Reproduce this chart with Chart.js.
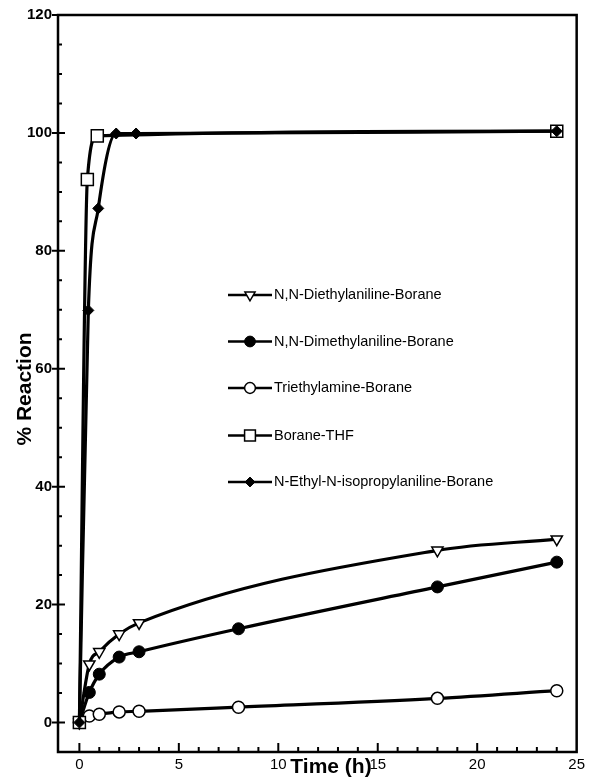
<!DOCTYPE html>
<html><head><meta charset="utf-8">
<script src="https://cdn.jsdelivr.net/npm/chart.js@4/dist/chart.umd.min.js"></script>
<style>html,body{margin:0;padding:0;background:#fff}#wrap{width:589px;height:784px}</style>
</head><body><div id="wrap"><canvas id="c" width="589" height="784"></canvas></div>
<script>
const seriesNames = ["N,N-Diethylaniline-Borane","N,N-Dimethylaniline-Borane","Triethylamine-Borane","Borane-THF","N-Ethyl-N-isopropylaniline-Borane"];
const diethylTime = [0,0.5,1,2,3,18,24];
const diethylPct = [0,9.9,12.0,15.0,16.9,29.2,31.1];
const dimethylTime = [0,0.5,1,2,3,8,18,24];
const dimethylPct = [0,5.1,8.2,11.1,12.0,15.9,23.0,27.2];
const triethylTime = [0,0.5,1,2,3,8,18,24];
const triethylPct = [0,1.1,1.4,1.8,1.9,2.6,4.1,5.4];
const thfTime = [0,0.4,0.9,24];
const thfPct = [0,92.1,99.5,100.3];
const ethylIsoTime = [0,0.45,0.95,1.85,2.85,24];
const ethylIsoPct = [0,69.9,87.2,99.9,99.9,100.3];
const xTickLabels = [0,5,10,15,20,25];
const yTickLabels = [0,20,40,60,80,100,120];
const xAxisTitle = "Time (h)";
const yAxisTitle = "% Reaction";

const pts = (t, p) => t.map((v, i) => ({x: v, y: p[i]}));
const FONT = "'Liberation Sans', Arial, sans-serif";

const styles = [
  {pointStyle:'triangle', rotation:180, pointRadius:6.5, pointBackgroundColor:'#fff', pointBorderWidth:1.5},
  {pointStyle:'circle', rotation:0, pointRadius:6, pointBackgroundColor:'#000', pointBorderWidth:1},
  {pointStyle:'circle', rotation:0, pointRadius:6, pointBackgroundColor:'#fff', pointBorderWidth:1.5},
  {pointStyle:'rect', rotation:0, pointRadius:8.5, pointBackgroundColor:'#fff', pointBorderWidth:1.5},
  {pointStyle:'rectRot', rotation:0, pointRadius:5.5, pointBackgroundColor:'#000', pointBorderWidth:1}
];
const seriesData = [pts(diethylTime, diethylPct), pts(dimethylTime, dimethylPct), pts(triethylTime, triethylPct), pts(thfTime, thfPct), pts(ethylIsoTime, ethylIsoPct)];
const drawOrder = [4,3,2,1,0];

const datasets = seriesNames.map((n, i) => Object.assign({
  label: n, data: seriesData[i], borderColor:'#000', borderWidth:3.2,
  pointBorderColor:'#000', cubicInterpolationMode:'monotone', fill:false,
  order: drawOrder[i], pointRotation: styles[i].rotation, pointHoverRadius: styles[i].pointRadius
}, styles[i]));

const framePlugin = {
  id:'frame',
  beforeDatasetsDraw(chart){
    const {ctx, chartArea:a, scales:{x, y}} = chart;
    ctx.save();
    ctx.strokeStyle = '#000';
    ctx.lineWidth = 2.5;
    ctx.strokeRect(a.left, a.top, a.right - a.left, a.bottom - a.top);
    ctx.lineWidth = 2;
    ctx.beginPath();
    for (let v = 0; v <= 120; v += 5) {
      const py = y.getPixelForValue(v);
      if (v % 20 === 0) { if (v === 120) { ctx.moveTo(a.left - 6, py); ctx.lineTo(a.left, py); } else { ctx.moveTo(a.left - 6, py); ctx.lineTo(a.left + 7, py); } }
      else { ctx.moveTo(a.left, py); ctx.lineTo(a.left + 4, py); }
    }
    for (let v = 0; v <= 24; v += 1) {
      const px = x.getPixelForValue(v);
      const len = v % 5 === 0 ? 9 : 5;
      ctx.moveTo(px, a.bottom); ctx.lineTo(px, a.bottom - len);
    }
    ctx.stroke();
    ctx.restore();
  },
  afterDraw(chart){
    const {ctx, chartArea:a} = chart;
    ctx.save();
    ctx.fillStyle = '#000';
    ctx.font = "bold 21px " + FONT;
    ctx.textAlign = 'center'; ctx.textBaseline = 'middle';
    ctx.fillText(xAxisTitle, 331, 767);
    ctx.translate(25, 389); ctx.rotate(-Math.PI/2);
    ctx.fillText(yAxisTitle, 0, 0);
    ctx.restore();
    // legend
    ctx.save();
    const rows = [295, 341.5, 388, 435.5, 482];
    chart.data.datasets.forEach((d, i) => {
      const yy = rows[i];
      ctx.strokeStyle = '#000'; ctx.lineWidth = 2.5;
      ctx.beginPath(); ctx.moveTo(228, yy); ctx.lineTo(272, yy); ctx.stroke();
      ctx.fillStyle = d.pointBackgroundColor; ctx.lineWidth = d.pointBorderWidth;
      Chart.helpers.drawPoint(ctx, {pointStyle: d.pointStyle, rotation: d.rotation, radius: d.pointRadius * 0.9, borderWidth: d.pointBorderWidth}, 250, yy);
      ctx.fillStyle = '#000';
      ctx.font = "14.5px " + FONT;
      ctx.textAlign = 'left'; ctx.textBaseline = 'middle';
      ctx.fillText(d.label, 274, yy);
    });
    ctx.restore();
  }
};

new Chart(document.getElementById('c'), {
  type:'line',
  data:{datasets},
  options:{
    responsive:false, animation:false, devicePixelRatio:1,
    layout:{padding:{top:14.5, right:10, left:0, bottom:0}},
    plugins:{legend:{display:false}, tooltip:{enabled:false}},
    scales:{
      x:{type:'linear', min:-1.075, max:25,
        afterBuildTicks: s => { s.ticks = xTickLabels.map(v => ({value:v})); },
        afterFit: s => { s.height = 32; },
        grid:{display:false, drawTicks:false}, border:{display:false},
        ticks:{color:'#000', font:{family:FONT, size:15}, padding:4, maxRotation:0, autoSkip:false}},
      y:{type:'linear', min:-5, max:120,
        afterBuildTicks: s => { s.ticks = yTickLabels.map(v => ({value:v})); },
        afterFit: s => { s.width = 58; },
        grid:{display:false, drawTicks:false}, border:{display:false},
        ticks:{color:'#000', font:{family:FONT, size:15, weight:'bold'}, padding:6, autoSkip:false}}
    }
  },
  plugins:[framePlugin]
});
</script></body></html>
